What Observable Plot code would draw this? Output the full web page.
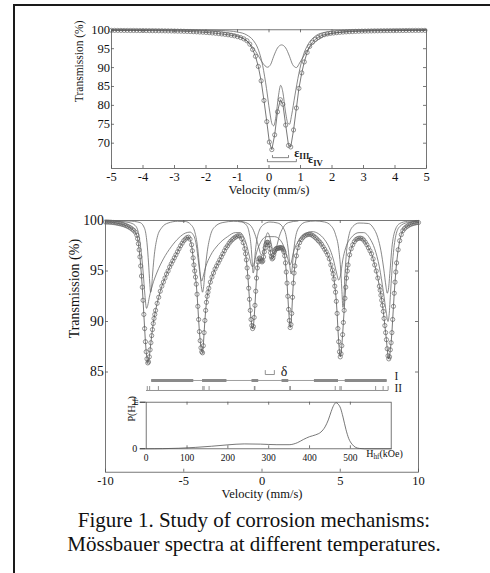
<!DOCTYPE html>
<html><head><meta charset="utf-8">
<script src="https://cdn.jsdelivr.net/npm/d3@7"></script>
<script src="https://cdn.jsdelivr.net/npm/@observablehq/plot@0.6"></script>
<style>
html,body{margin:0;padding:0;background:#fff;}
#wrap{position:relative;width:490px;height:573px;overflow:hidden;font-family:"Liberation Serif","Times New Roman",serif;background:#fff;}
#border{position:absolute;left:13px;top:4px;width:600px;height:700px;border-top:2px solid #1a1a1a;border-left:2px solid #1a1a1a;}
.panel{position:absolute;left:0;}
#caption{position:absolute;left:14px;width:480px;top:509px;text-align:center;font-size:21px;line-height:23.7px;color:#111;}
</style></head>
<body>
<div id="wrap">
<div id="border"></div>
<div id="p1" class="panel" style="top:0px"></div>
<div id="p2" class="panel" style="top:200px"></div>
<div id="p3" class="panel" style="top:395px"></div>
<div id="caption">Figure 1. Study of corrosion mechanisms:<br>Mössbauer spectra at different temperatures.</div>
</div>
<script>
// ---------------- DATA ----------------
// Top spectrum (velocity mm/s, transmission %)
const topXTicks = [-5,-4,-3,-2,-1,0,1,2,3,4,5];
const topYTicks = [70,75,80,85,90,95,100];
const topData = [[-5.0,99.85],[-4.9,99.85],[-4.8,99.84],[-4.7,99.84],[-4.6,99.83],[-4.5,99.83],[-4.4,99.82],[-4.3,99.82],[-4.2,99.81],[-4.1,99.80],[-4.0,99.80],[-3.9,99.79],[-3.8,99.78],[-3.7,99.77],[-3.6,99.76],[-3.5,99.75],[-3.4,99.74],[-3.3,99.72],[-3.2,99.71],[-3.1,99.69],[-3.0,99.67],[-2.9,99.65],[-2.8,99.63],[-2.7,99.60],[-2.6,99.57],[-2.5,99.54],[-2.4,99.50],[-2.3,99.46],[-2.2,99.41],[-2.1,99.36],[-2.0,99.30],[-1.9,99.24],[-1.8,99.17],[-1.7,99.09],[-1.6,99.0],[-1.5,98.9],[-1.4,98.8],[-1.3,98.68],[-1.2,98.55],[-1.1,98.4],[-1.0,98.2],[-0.9,97.95],[-0.8,97.6],[-0.7,97.1],[-0.61,96.2],[-0.52,94.8],[-0.43,93.0],[-0.34,90.3],[-0.25,86.5],[-0.16,81.3],[-0.07,75.7],[0.01,70.3],[0.09,68.3],[0.18,72.2],[0.27,78.3],[0.36,81.5],[0.44,80.3],[0.53,74.8],[0.62,69.4],[0.69,69.0],[0.78,73.5],[0.87,79.3],[0.95,84.5],[1.04,88.6],[1.12,91.5],[1.21,94.0],[1.29,95.6],[1.38,96.7],[1.47,97.5],[1.56,98.0],[1.65,98.4],[1.75,98.7],[1.85,98.9],[1.95,99.05],[2.05,99.15],[2.15,99.24],[2.25,99.32],[2.35,99.39],[2.45,99.45],[2.55,99.5],[2.65,99.54],[2.75,99.58],[2.85,99.61],[2.95,99.64],[3.05,99.66],[3.15,99.68],[3.25,99.7],[3.35,99.72],[3.45,99.73],[3.55,99.75],[3.65,99.76],[3.75,99.77],[3.85,99.78],[3.95,99.79],[4.05,99.8],[4.15,99.81],[4.25,99.81],[4.35,99.82],[4.45,99.83],[4.55,99.83],[4.65,99.84],[4.75,99.84],[4.85,99.85],[4.95,99.85]];
const topComp1 = [[-5,99.99],[-3,99.97],[-2,99.9],[-1.5,99.8],[-1.0,99.4],[-0.7,98.6],[-0.5,97.2],[-0.35,95.0],[-0.2,90.5],[-0.08,84.5],[0.02,78.5],[0.1,75.0],[0.15,74.6],[0.22,77.0],[0.3,82.5],[0.37,85.3],[0.44,83.5],[0.52,78.5],[0.6,75.3],[0.65,75.0],[0.72,77.5],[0.82,82.5],[0.95,88.5],[1.08,93.0],[1.25,96.3],[1.45,98.2],[1.7,99.2],[2.2,99.75],[3,99.93],[5,99.98]];
const topComp2 = [[-5,99.97],[-3,99.9],[-2,99.7],[-1.5,99.4],[-1.0,98.5],[-0.7,97.0],[-0.5,95.2],[-0.35,93.3],[-0.2,91.2],[-0.05,90.1],[0.05,90.8],[0.15,93.0],[0.27,95.2],[0.4,96.0],[0.53,95.2],[0.65,93.0],[0.75,90.8],[0.87,90.0],[0.97,91.2],[1.12,93.3],[1.27,95.2],[1.5,97.0],[1.8,98.5],[2.3,99.4],[2.8,99.7],[3.8,99.9],[5,99.97]];
const epsIII = [[0.11,66.75],[0.11,66.17],[0.62,66.17],[0.62,66.75]];
const epsIV  = [[-0.05,65.7],[-0.05,65.1],[0.87,65.1],[0.87,65.7]];
const topLabels = [{v:0.80,t:67.4,s:"ε_{III}"},{v:1.24,t:65.7,s:"ε_{IV}"}];

// Bottom spectrum
const botXTicks = [-10,-5,0,5,10];
const botYTicks = [85,90,95,100];
const botData = [[-10.0,99.85],[-9.9,99.85],[-9.8,99.84],[-9.7,99.83],[-9.6,99.82],[-9.5,99.8],[-9.4,99.78],[-9.3,99.75],[-9.2,99.72],[-9.1,99.69],[-9.0,99.65],[-8.9,99.61],[-8.8,99.56],[-8.7,99.5],[-8.6,99.43],[-8.5,99.35],[-8.4,99.26],[-8.3,99.15],[-8.2,99.02],[-8.1,98.85],[-8.0,98.55],[-7.95,98.2],[-7.9,97.7],[-7.85,97.1],[-7.8,96.4],[-7.75,95.5],[-7.7,94.5],[-7.65,93.4],[-7.6,92.1],[-7.55,90.7],[-7.5,89.3],[-7.45,88.0],[-7.4,87.0],[-7.35,86.3],[-7.3,85.9],[-7.25,86.0],[-7.2,86.5],[-7.15,87.2],[-7.1,87.9],[-7.05,88.6],[-7.0,89.2],[-6.95,89.8],[-6.9,90.3],[-6.85,90.7],[-6.8,91.1],[-6.7,91.8],[-6.6,92.4],[-6.5,93.0],[-6.4,93.5],[-6.3,93.9],[-6.2,94.3],[-6.1,94.7],[-6.0,95.0],[-5.9,95.4],[-5.8,95.7],[-5.7,96.0],[-5.6,96.3],[-5.5,96.6],[-5.4,96.9],[-5.3,97.2],[-5.2,97.5],[-5.1,97.75],[-5.0,98.0],[-4.9,98.15],[-4.8,98.3],[-4.7,98.35],[-4.6,98.15],[-4.5,97.6],[-4.45,97.0],[-4.4,96.3],[-4.35,95.6],[-4.3,95.0],[-4.25,94.4],[-4.2,93.7],[-4.15,92.7],[-4.1,91.5],[-4.05,90.2],[-4.0,89.0],[-3.95,88.1],[-3.9,87.4],[-3.85,87.0],[-3.8,86.9],[-3.75,87.6],[-3.7,88.9],[-3.65,90.1],[-3.6,91.1],[-3.55,91.9],[-3.5,92.5],[-3.45,92.9],[-3.4,93.3],[-3.3,93.9],[-3.2,94.4],[-3.1,94.8],[-3.0,95.2],[-2.9,95.5],[-2.8,95.8],[-2.7,96.1],[-2.6,96.4],[-2.5,96.7],[-2.4,97.0],[-2.3,97.3],[-2.2,97.5],[-2.1,97.75],[-2.0,97.95],[-1.9,98.1],[-1.8,98.25],[-1.7,98.35],[-1.6,98.45],[-1.5,98.5],[-1.4,98.45],[-1.3,98.2],[-1.2,97.8],[-1.1,97.2],[-1.05,96.7],[-1.0,96.1],[-0.95,95.3],[-0.9,94.4],[-0.85,93.3],[-0.8,92.2],[-0.75,91.1],[-0.7,90.2],[-0.65,89.6],[-0.6,89.3],[-0.55,89.5],[-0.5,90.4],[-0.45,91.6],[-0.4,93.0],[-0.35,94.3],[-0.3,95.3],[-0.25,95.9],[-0.2,96.2],[-0.15,96.3],[-0.1,96.2],[-0.05,96.0],[0.0,95.9],[0.05,96.0],[0.1,96.4],[0.15,96.9],[0.2,97.3],[0.25,97.6],[0.3,97.8],[0.35,97.85],[0.4,97.8],[0.45,97.6],[0.5,97.2],[0.55,96.8],[0.6,96.4],[0.65,96.2],[0.7,96.3],[0.75,96.6],[0.8,96.9],[0.85,97.1],[0.9,97.2],[0.95,97.25],[1.0,97.25],[1.05,97.25],[1.1,97.3],[1.15,97.3],[1.2,97.3],[1.25,97.3],[1.3,97.25],[1.35,97.1],[1.4,96.9],[1.45,96.5],[1.5,95.8],[1.55,94.9],[1.6,93.8],[1.65,92.5],[1.7,91.2],[1.75,90.1],[1.8,89.4],[1.85,89.7],[1.9,90.8],[1.95,92.4],[2.0,93.8],[2.05,94.8],[2.1,95.5],[2.2,96.5],[2.3,97.3],[2.4,97.8],[2.5,98.1],[2.6,98.3],[2.7,98.45],[2.8,98.55],[2.9,98.6],[3.0,98.65],[3.1,98.62],[3.2,98.55],[3.3,98.45],[3.4,98.32],[3.5,98.17],[3.6,98.0],[3.7,97.85],[3.8,97.65],[3.9,97.4],[4.0,97.15],[4.1,96.9],[4.2,96.6],[4.3,96.2],[4.4,95.6],[4.5,95.1],[4.55,94.7],[4.6,94.2],[4.65,93.5],[4.7,92.9],[4.75,92.0],[4.8,90.8],[4.85,89.3],[4.9,88.0],[4.95,87.0],[5.0,86.5],[5.05,86.8],[5.1,87.6],[5.15,88.7],[5.2,89.9],[5.25,91.1],[5.3,92.3],[5.35,93.4],[5.4,94.3],[5.45,95.0],[5.5,95.6],[5.6,96.6],[5.7,97.2],[5.8,97.6],[5.9,97.9],[6.0,98.1],[6.1,98.2],[6.2,98.25],[6.3,98.25],[6.4,98.2],[6.5,98.05],[6.6,97.85],[6.7,97.6],[6.8,97.3],[6.9,97.0],[7.0,96.7],[7.1,96.2],[7.2,95.6],[7.3,95.0],[7.4,94.3],[7.5,93.5],[7.55,93.1],[7.6,92.6],[7.65,92.1],[7.7,91.6],[7.75,91.0],[7.8,90.3],[7.85,89.6],[7.9,88.9],[7.95,88.2],[8.0,87.3],[8.05,86.6],[8.1,86.3],[8.15,86.5],[8.2,87.2],[8.25,87.9],[8.3,88.9],[8.35,90.2],[8.4,91.5],[8.45,92.8],[8.5,93.9],[8.55,94.9],[8.6,95.8],[8.7,97.1],[8.8,98.0],[8.9,98.6],[9.0,99.0],[9.1,99.2],[9.2,99.35],[9.3,99.45],[9.4,99.55],[9.5,99.62],[9.6,99.68],[9.7,99.72],[9.8,99.76],[9.9,99.79],[10.0,99.8]];
const botCompA = [[-10,99.99],[-8.5,99.95],[-7.8,99.8],[-7.5,99.2],[-7.35,97.8],[-7.25,95.8],[-7.17,93.8],[-7.12,92.9],[-7.06,93.3],[-6.98,94.9],[-6.88,96.6],[-6.7,98.3],[-6.4,99.3],[-6.0,99.75],[-5.4,99.92],[-4.9,99.9],[-4.55,99.6],[-4.3,98.9],[-4.12,97.4],[-3.98,95.2],[-3.86,93.3],[-3.8,92.9],[-3.74,93.3],[-3.64,95.0],[-3.5,96.9],[-3.3,98.5],[-3.0,99.4],[-2.5,99.8],[-1.8,99.92],[-1.3,99.85],[-1.0,99.55],[-0.82,98.8],[-0.7,97.5],[-0.62,95.8],[-0.57,94.8],[-0.52,95.0],[-0.45,96.5],[-0.35,97.9],[-0.2,98.9],[0.1,99.6],[0.5,99.85],[1.0,99.75],[1.3,99.4],[1.55,98.4],[1.7,96.8],[1.8,95.2],[1.86,94.7],[1.92,95.2],[2.02,96.9],[2.15,98.4],[2.4,99.4],[2.8,99.85],[3.4,99.95],[4.0,99.85],[4.4,99.5],[4.7,98.6],[4.9,97.2],[5.02,95.3],[5.1,93.2],[5.17,91.4],[5.23,92.2],[5.3,94.6],[5.4,96.9],[5.55,98.5],[5.8,99.4],[6.2,99.75],[6.8,99.7],[7.1,99.3],[7.4,98.3],[7.6,97.0],[7.78,95.2],[7.92,93.5],[8.0,92.8],[8.08,93.2],[8.18,95.0],[8.3,97.3],[8.5,99.0],[8.8,99.7],[9.3,99.92],[10,99.98]];
const botCompB = [[-10,99.95],[-9,99.9],[-8.5,99.8],[-8.1,99.5],[-7.9,98.8],[-7.75,97.3],[-7.6,95.0],[-7.48,92.6],[-7.38,91.3],[-7.3,91.6],[-7.2,92.4],[-7.0,93.6],[-6.7,94.9],[-6.3,96.2],[-5.8,97.4],[-5.3,98.3],[-4.9,98.75],[-4.6,98.85],[-4.4,98.6],[-4.2,97.6],[-4.05,95.8],[-3.92,94.3],[-3.85,94.0],[-3.75,94.5],[-3.6,95.4],[-3.3,96.5],[-2.8,97.6],[-2.2,98.4],[-1.7,98.8],[-1.4,98.8],[-1.15,98.3],[-0.95,97.4],[-0.8,96.4],[-0.68,95.6],[-0.6,95.4],[-0.5,95.8],[-0.35,96.8],[-0.1,97.8],[0.3,98.4],[0.8,98.4],[1.2,98.0],[1.45,97.2],[1.65,96.2],[1.78,95.6],[1.88,95.9],[2.0,96.8],[2.3,97.9],[2.8,98.7],[3.2,98.9],[3.6,98.7],[4.0,98.1],[4.3,97.3],[4.55,96.2],[4.75,94.9],[4.9,94.1],[5.02,94.6],[5.15,96.0],[5.35,97.3],[5.7,98.3],[6.2,98.8],[6.5,98.8],[6.9,98.2],[7.2,97.2],[7.5,95.4],[7.75,93.0],[7.95,90.8],[8.05,90.0],[8.12,90.6],[8.22,93.0],[8.35,96.0],[8.55,98.5],[8.8,99.4],[9.3,99.8],[10,99.92]];
const botCompD = [[-1.5,99.95],[-0.9,99.7],[-0.6,99.2],[-0.4,98.4],[-0.2,97.3],[-0.05,96.6],[0.05,96.8],[0.15,97.7],[0.27,98.5],[0.37,98.8],[0.47,98.5],[0.6,97.6],[0.72,96.8],[0.8,96.6],[0.92,97.3],[1.1,98.4],[1.35,99.3],[1.7,99.8],[2.3,99.95]];
// Site markers
const rowIY = 84.16;
const rowILine = [[-7.05, 8.0]];
const rowISegs = [[-7.05,-4.36],[-3.8,-2.24],[-0.64,-0.21],[1.28,1.71],[3.35,4.89],[5.32,8.0]];
const rowIIY = [83.17, 83.56];
const rowIILine = [[-7.38, 8.1]];
const rowIITicks = [-7.33,-7.18,-6.62,-3.78,-3.7,-3.38,-0.49,-0.45,1.78,1.81,4.68,4.98,5.06,7.26,7.74,8.06];
const deltaBracket = [[0.21,85.15],[0.21,84.75],[0.79,84.75],[0.79,85.15]];
const botLabels = [{v:1.2,t:85.05,s:"δ",fs:14},{v:8.46,t:84.55,s:"I",fs:11.5},{v:8.46,t:83.4,s:"II",fs:11.5}];

// Hyperfine field distribution (kOe, relative probability)
const hTicks = [0,100,200,300,400,500];
const pH = [[0,0],[40,0.003],[80,0.012],[120,0.03],[160,0.055],[200,0.085],[240,0.105],[280,0.1],[320,0.088],[350,0.088],[370,0.13],[385,0.2],[400,0.26],[415,0.3],[428,0.36],[438,0.47],[446,0.62],[453,0.8],[459,0.93],[465,0.99],[470,0.96],[476,0.87],[482,0.68],[489,0.42],[496,0.22],[504,0.1],[512,0.035],[522,0.008],[535,0],[600,0]];

// ---------------- DRAW ----------------
const FONT = "'Liberation Serif', 'Times New Roman', serif";
const baseStyle = {background:"transparent", color:"#111", overflow:"visible"};
const LINE = "#555", COMP = "#6a6a6a", DOT = "#666", FR = "#555";
const fx = d => d[0], fy = d => d[1];

function finish(svg){
  const s = d3.select(svg);
  s.attr("font-family", FONT).style("font-family", FONT);
  s.selectAll("g").attr("font-family", null).style("font-family", FONT);
  s.selectAll("text").each(function(){
    this.style.setProperty("font-family", FONT, "important");
    const t = this.textContent;
    const m = t.match(/^(.*?)_\{(.+?)\}(.*)$/);
    if(!m) return;
    const el = d3.select(this); el.text(null);
    el.append("tspan").text(m[1]);
    el.append("tspan").attr("dy","0.3em").attr("font-size","72%").text(m[2]);
    if(m[3]) el.append("tspan").attr("dy","-0.22em").text(m[3]);
  });
  return svg;
}

function boxTicks(xt, yt, fw, fh, len){
  return [
    Plot.tickX(xt, {x:d=>d, insetTop:fh-len, stroke:FR, strokeWidth:0.8}),
    Plot.tickX(xt, {x:d=>d, insetBottom:fh-len, stroke:FR, strokeWidth:0.8}),
    yt ? Plot.tickY(yt, {y:d=>d, insetRight:fw-len, stroke:FR, strokeWidth:0.8}) : null,
    yt ? Plot.tickY(yt, {y:d=>d, insetLeft:fw-len, stroke:FR, strokeWidth:0.8}) : null
  ];
}

// Top panel
{
  const W=490,H=200,L=111,R=426,T=29.3,B=168;
  const svg = Plot.plot({
    width:W, height:H, marginLeft:L, marginRight:W-R, marginTop:T, marginBottom:H-B,
    x:{domain:[-5,5]}, y:{domain:[63.3,100]},
    style:baseStyle,
    marks:[
      Plot.frame({stroke:FR, strokeWidth:0.8}),
      ...boxTicks(topXTicks, topYTicks, R-L, B-T, 3),
      Plot.axisX(topXTicks, {tickSize:0, tickPadding:3.5, fontSize:12.5, tickFormat:d=>String(d), label:null}),
      Plot.axisY(topYTicks, {tickSize:0, tickPadding:1.5, fontSize:12.5, tickFormat:d=>String(d), label:null}),
      Plot.line(topComp2, {x:fx, y:fy, stroke:COMP, strokeWidth:0.8, curve:"monotone-x"}),
      Plot.line(topComp1, {x:fx, y:fy, stroke:COMP, strokeWidth:0.8, curve:"monotone-x"}),
      Plot.dot(topData, {x:fx, y:fy, r:2.1, stroke:DOT, strokeWidth:0.7, fill:"none"}),
      Plot.line(topData, {x:fx, y:fy, stroke:LINE, strokeWidth:0.8}),
      Plot.line(epsIII, {x:fx, y:fy, stroke:"#666", strokeWidth:0.8}),
      Plot.line(epsIV, {x:fx, y:fy, stroke:"#666", strokeWidth:0.8}),
      Plot.text(topLabels, {x:"v", y:"t", text:"s", textAnchor:"start", fontSize:12, fontWeight:"bold", fill:"#222"}),
      Plot.text(["Transmission (%)"], {text:d=>d, frameAnchor:"left", rotate:-90, dx:-32, dy:3, fontSize:11.5}),
      Plot.text(["Velocity (mm/s)"], {text:d=>d, frameAnchor:"bottom", dy:25, fontSize:12.5})
    ]
  });
  document.getElementById("p1").appendChild(finish(svg));
}

// Bottom panel
{
  const W=490,H=310,L=105,R=418,T=20,B=271.7;
  const svg = Plot.plot({
    width:W, height:H, marginLeft:L, marginRight:W-R, marginTop:T, marginBottom:H-B,
    x:{domain:[-10,10]}, y:{domain:[75.08,100]},
    style:baseStyle,
    marks:[
      Plot.frame({stroke:FR, strokeWidth:0.8}),
      ...boxTicks(botXTicks, botYTicks, R-L, B-T, 3),
      Plot.axisX(botXTicks, {tickSize:0, tickPadding:3.5, fontSize:12.5, tickFormat:d=>String(d), label:null}),
      Plot.axisY(botYTicks, {tickSize:0, tickPadding:1.7, fontSize:13.7, tickFormat:d=>String(d), label:null}),
      Plot.line(botCompB, {x:fx, y:fy, stroke:COMP, strokeWidth:0.8, curve:"monotone-x"}),
      Plot.line(botCompA, {x:fx, y:fy, stroke:COMP, strokeWidth:0.8, curve:"monotone-x"}),
      Plot.line(botCompD, {x:fx, y:fy, stroke:COMP, strokeWidth:0.8, curve:"monotone-x"}),
      Plot.dot(botData, {x:fx, y:fy, r:2.1, stroke:DOT, strokeWidth:0.7, fill:"none"}),
      Plot.line(botData, {x:fx, y:fy, stroke:LINE, strokeWidth:0.8}),
      Plot.ruleY(rowILine, {y:()=>rowIY, x1:d=>d[0], x2:d=>d[1], stroke:"#888", strokeWidth:0.8}),
      Plot.ruleY(rowISegs, {y:()=>rowIY, x1:d=>d[0], x2:d=>d[1], stroke:"#8a8a8a", strokeWidth:3}),
      Plot.ruleY(rowIILine, {y:()=>rowIIY[0], x1:d=>d[0], x2:d=>d[1], stroke:"#777", strokeWidth:0.8}),
      Plot.ruleX(rowIITicks, {x:d=>d, y1:()=>rowIIY[0], y2:()=>rowIIY[1], stroke:"#777", strokeWidth:0.8}),
      Plot.line(deltaBracket, {x:fx, y:fy, stroke:"#777", strokeWidth:0.8}),
      Plot.text(botLabels, {x:"v", y:"t", text:"s", textAnchor:"start", fontSize:d=>d.fs, fontWeight:d=>d.s==="δ"?"normal":"bold", fill:"#222"}),
      Plot.text(["Transmission (%)"], {text:d=>d, frameAnchor:"left", rotate:-90, dx:-31, dy:-8, fontSize:14}),
      Plot.text(["Velocity (mm/s)"], {text:d=>d, frameAnchor:"bottom", dy:25.5, fontSize:12.5})
    ]
  });
  document.getElementById("p2").appendChild(finish(svg));
}

// Inset: hyperfine field distribution
{
  const W=490,H=75,L=145.7,R=390.7,T=6.7,B=53.3;
  const svg = Plot.plot({
    width:W, height:H, marginLeft:L, marginRight:W-R, marginTop:T, marginBottom:H-B,
    x:{domain:[0,600]}, y:{domain:[0,1.0]},
    style:baseStyle,
    marks:[
      Plot.frame({stroke:FR, strokeWidth:0.8}),
      ...boxTicks(hTicks.slice(1), null, R-L, B-T, 3),
      Plot.axisX(hTicks, {tickSize:0, tickPadding:5, fontSize:9.5, tickFormat:d=>String(d), label:null}),
      Plot.line(pH, {x:fx, y:fy, stroke:LINE, strokeWidth:0.8, curve:"monotone-x"}),
      Plot.text(["H_{hf}(kOe)"], {text:d=>d, x:()=>539, frameAnchor:"bottom", dy:8.4, textAnchor:"start", fontSize:10}),
      Plot.text(["P(H_{hf})"], {text:d=>d, frameAnchor:"left", rotate:-90, dx:-14, dy:-4, fontSize:10})
    ]
  });
  document.getElementById("p3").appendChild(finish(svg));
}
</script>
</body></html>
